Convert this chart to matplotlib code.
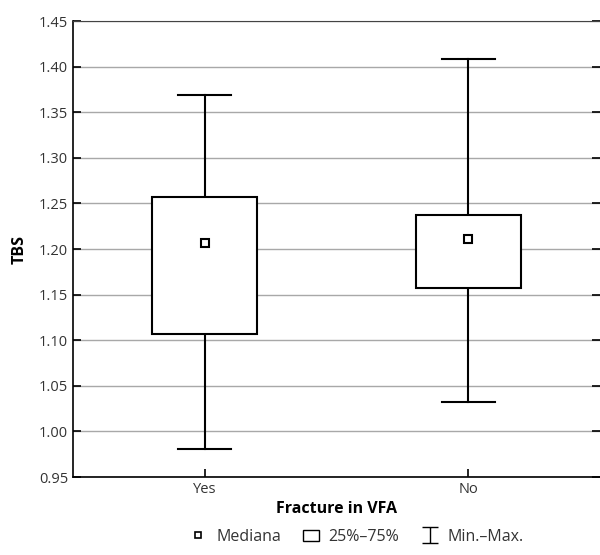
import matplotlib
matplotlib.use("Agg")
import matplotlib.pyplot as plt
from matplotlib.lines import Line2D
from matplotlib.patches import Patch
from matplotlib.path import Path

plt.rcParams['font.family'] = ['Open Sans', 'DejaVu Sans']

categories = ["Yes", "No"]
q1 = [1.107, 1.157]
q3 = [1.257, 1.237]
median = [1.207, 1.211]
vmin = [0.981, 1.032]
vmax = [1.369, 1.408]

yticks = [0.95, 1.00, 1.05, 1.10, 1.15, 1.20, 1.25, 1.30, 1.35, 1.40, 1.45]

fig = plt.figure(figsize=(6, 5.55), dpi=100)
ax = fig.add_axes([0.1217, 0.1405, 0.8783, 0.8215])

box_w = 0.4
cap_w = 0.2
lw = 1.5
for i in range(len(categories)):
    ax.plot([i, i], [q3[i], vmax[i]], color="black", lw=lw, zorder=3)
    ax.plot([i, i], [vmin[i], q1[i]], color="black", lw=lw, zorder=3)
    ax.plot([i - cap_w / 2, i + cap_w / 2], [vmax[i], vmax[i]], color="black", lw=lw, zorder=3)
    ax.plot([i - cap_w / 2, i + cap_w / 2], [vmin[i], vmin[i]], color="black", lw=lw, zorder=3)
    ax.add_patch(plt.Rectangle((i - box_w / 2, q1[i]), box_w, q3[i] - q1[i],
                               facecolor="white", edgecolor="black", lw=lw, zorder=3))
    ax.plot(i, median[i], marker="s", ms=6, mfc="white", mec="black", mew=1.5, zorder=4)

ax.set_xlim(-0.5, 1.5)
ax.set_ylim(0.95, 1.45)
ax.set_xticks(range(len(categories)))
ax.set_xticklabels(categories)
ax.set_yticks(yticks)
ax.set_yticklabels([f"{v:.2f}" for v in yticks])
ax.yaxis.grid(True, color="#a8a8a8", lw=1)
ax.set_axisbelow(True)
ax.tick_params(direction="in", length=6, width=1.2, labelsize=10.5, colors="black",
               labelcolor="#333333")
ax.tick_params(axis="y", right=True)
ax.spines["right"].set_visible(False)
ax.spines["top"].set_color("#444444")
for s in ["left", "bottom"]:
    ax.spines[s].set_linewidth(1.2)

ax.set_ylabel("TBS", fontsize=11.5, fontweight="bold", labelpad=8)
ax.set_xlabel("Fracture in VFA", fontsize=11.5, fontweight="bold", labelpad=3)

ibeam = Path([(-0.5, 0.5), (0.5, 0.5), (0, 0.5), (0, -0.5), (-0.5, -0.5), (0.5, -0.5)],
             [Path.MOVETO, Path.LINETO, Path.MOVETO, Path.LINETO, Path.MOVETO, Path.LINETO])
handles = [
    Line2D([], [], ls="none", marker="s", ms=5, mfc="white", mec="black", mew=1.2),
    Patch(facecolor="white", edgecolor="black", lw=1),
    Line2D([], [], ls="none", marker=ibeam, ms=12, mec="black", mew=1),
]
labels = ["Mediana", "25%\u201375%", "Min.\u2013Max."]
fig.legend(handles, labels, loc="lower center", bbox_to_anchor=(0.595, -0.008), ncol=3,
           frameon=False, fontsize=11.5, handlelength=1, handletextpad=0.6,
           columnspacing=1.4, labelcolor="#333333")

fig.savefig("out.png", dpi=100)
